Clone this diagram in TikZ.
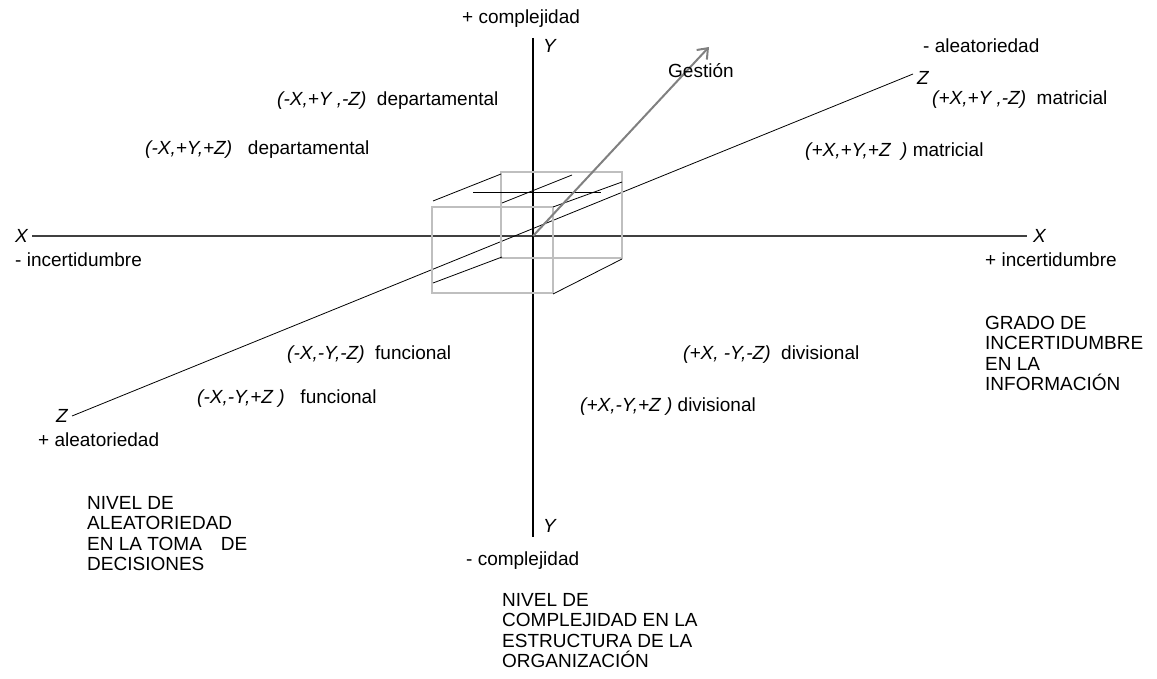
\documentclass[tikz,border=0pt]{standalone}
\usepackage{fontspec}
\setmainfont{Liberation Sans}
\usetikzlibrary{positioning,arrows.meta}

\begin{document}
\begin{tikzpicture}[x=1pt,y=-1pt,font=\fontsize{19}{20.5}\selectfont,
  lbl/.style={anchor=west,inner sep=0pt,text height=13pt,text depth=4pt},
  ejelbl/.style={inner sep=0pt,text height=13pt,text depth=0pt,font=\fontsize{19}{20.5}\selectfont\itshape},
  bloque/.style={anchor=north west,inner sep=0pt,align=left},
  caja/.style={draw=gray!50,line width=2.6pt},
  arista/.style={draw,line width=0.8pt}]
\useasboundingbox (0,0) rectangle (1157,679);
\coordinate (o) at (533,236);
\coordinate (xl) at (32,236);
\coordinate (xr) at (1027,236);
\coordinate (yt) at (533,38);
\coordinate (yb) at (533,537);
\coordinate (zl) at (72,416);
\coordinate (zr) at (913,74);
\coordinate (g) at (709,47);

\path[draw=black!75,line width=1.1pt] (xl) -- (xr);
\path[draw,line width=1.8pt] (yt) -- (yb);
\path[draw,line width=0.8pt] (zl) -- (zr);

\path[caja] (501,172) rectangle (622,258);
\path[caja] (432,207) rectangle (553,293);
\path[arista] (433,201) -- (501,174);
\path[arista] (502,203) -- (572,175);
\path[arista] (553,207) -- (622,182);
\path[arista] (433,283) -- (502,257);
\path[arista] (553,294) -- (622,259);
\path[arista] (473,192) -- (601,192);

\path[draw=gray,line width=2pt,-{Straight Barb[length=9pt,width=14pt]}] (o) -- (g);

\node[ejelbl,left=4pt of xl] (xizq) {X};
\node[ejelbl,right=6pt of xr] (xder) {X};
\node[ejelbl,anchor=west] (ysup) at (543,46) {Y};
\node[ejelbl,anchor=west] (yinf) at (543,526) {Y};
\node[ejelbl,left=4pt of zl] (zizq) {Z};
\node[ejelbl,right=4pt of zr,yshift=-4pt] (zder) {Z};

\node[lbl] (mascompl) at (462,19) {+ complejidad};
\node[lbl] (menoscompl) at (466,561) {- complejidad};
\node[lbl] (menosinc) at (15,262) {- incertidumbre};
\node[lbl] (masinc) at (985,262) {+ incertidumbre};
\node[lbl] (menosal) at (923,48) {- aleatoriedad};
\node[lbl] (masal) at (38,442) {+ aleatoriedad};
\node[lbl] (gestion) at (668,73) {Gestión};

\node[lbl] (dep1) at (277,101) {\textit{(-X,+Y ,-Z)}\ \ departamental};
\node[lbl] (dep2) at (145,150) {\textit{(-X,+Y,+Z)}\ \ \ departamental};
\node[lbl] (mat1) at (932,100) {\textit{(+X,+Y ,-Z)}\ \ matricial};
\node[lbl] (mat2) at (805,152) {\textit{(+X,+Y,+Z\ \ )} matricial};
\node[lbl] (fun1) at (287,355) {\textit{(-X,-Y,-Z)}\ \ funcional};
\node[lbl] (fun2) at (197,399) {\textit{(-X,-Y,+Z )}\ \ \ funcional};
\node[lbl] (div1) at (683,355) {\textit{(+X, -Y,-Z)}\ \ divisional};
\node[lbl] (div2) at (580,407) {\textit{(+X,-Y,+Z )} divisional};

\node[bloque] (grado) at (985,316) {GRADO DE\\INCERTIDUMBRE\\EN LA\\INFORMACIÓN};
\node[bloque] (nivelal) at (87,496) {NIVEL DE\\ALEATORIEDAD\\EN LA TOMA\quad DE\\DECISIONES};
\node[bloque] (nivelco) at (502,593) {NIVEL DE\\COMPLEJIDAD EN LA\\ESTRUCTURA DE LA\\ORGANIZACIÓN};
\end{tikzpicture}
\end{document}
